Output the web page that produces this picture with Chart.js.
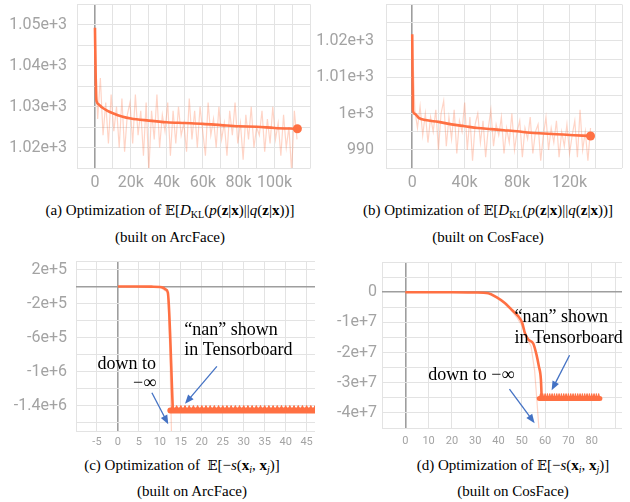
<!DOCTYPE html>
<html>
<head>
<meta charset="utf-8">
<script src="https://cdn.jsdelivr.net/npm/chart.js@4.4.1/dist/chart.umd.min.js"></script>
<style>
  body { margin: 0; background: #fff; }
  #fig { position: relative; width: 630px; height: 502px; overflow: hidden; }
  .pane { position: absolute; }
  .cap { position: absolute; width: 340px; text-align: center; font-family: "Liberation Serif", "DejaVu Serif", serif; font-size: 15px; line-height: 18px; color: #000; white-space: nowrap; }
  .cap sub { font-size: 10px; vertical-align: -3px; line-height: 0; }
  .bb { font-family: "DejaVu Serif", serif; font-size: 13px; }
</style>
</head>
<body>
<div id="fig">
  <div class="pane" style="left:0;top:0;width:315px;height:195px"><canvas id="chartA"></canvas></div>
  <div class="pane" style="left:315px;top:0;width:315px;height:195px"><canvas id="chartB"></canvas></div>
  <div class="pane" style="left:0;top:250px;width:315px;height:200px"><canvas id="chartC"></canvas></div>
  <div class="pane" style="left:315px;top:250px;width:315px;height:200px"><canvas id="chartD"></canvas></div>

  <div class="cap" style="left:0px;top:201px">(a) Optimization of <span class="bb">𝔼</span>[<i>D</i><sub>KL</sub>(<i>p</i>(<b>z</b>|<b>x</b>)||<i>q</i>(<b>z</b>|<b>x</b>))]</div>
  <div class="cap" style="left:0px;top:228px">(built on ArcFace)</div>
  <div class="cap" style="left:318px;top:201px">(b) Optimization of <span class="bb">𝔼</span>[<i>D</i><sub>KL</sub>(<i>p</i>(<b>z</b>|<b>x</b>)||<i>q</i>(<b>z</b>|<b>x</b>))]</div>
  <div class="cap" style="left:318px;top:228px">(built on CosFace)</div>
  <div class="cap" style="left:12px;top:456px">(c) Optimization of &nbsp;<span class="bb">𝔼</span>[−<i>s</i>(<b>x</b><sub><i>i</i></sub>, <b>x</b><sub><i>j</i></sub>)]</div>
  <div class="cap" style="left:22px;top:482px">(built on ArcFace)</div>
  <div class="cap" style="left:343px;top:456px">(d) Optimization of <span class="bb">𝔼</span>[−<i>s</i>(<b>x</b><sub><i>i</i></sub>, <b>x</b><sub><i>j</i></sub>)]</div>
  <div class="cap" style="left:343px;top:482px">(built on CosFace)</div>
</div>

<script>
// ---- (a) KL term, ArcFace ----
var smoothStepsA = [0, 300, 600, 1000, 2000, 4000, 7000, 10000, 15000, 20000, 30000, 40000, 50000, 60000, 70000, 80000, 90000, 100000, 112700];
var smoothA = [1049.3, 1040, 1033, 1031.2, 1030.6, 1029.8, 1029, 1028.4, 1027.6, 1027.1, 1026.6, 1026.2, 1026, 1025.8, 1025.5, 1025.2, 1025.1, 1024.8, 1024.6];
var rawStepA = 1500;
var rawA = [1049, 1027, 1037, 1023, 1031, 1021, 1033, 1024, 1030, 1020, 1032, 1019, 1028, 1031, 1021, 1033, 1023, 1029, 1018, 1031,
            1014, 1029, 1022, 1033, 1020, 1028, 1024, 1031, 1018, 1029, 1021, 1030, 1023, 1026, 1019, 1032, 1022, 1029, 1020, 1030,
            1024, 1018, 1031, 1023, 1027, 1020, 1030, 1022, 1026, 1018, 1029, 1023, 1031, 1021, 1026, 1017, 1028, 1022, 1030, 1020,
            1025, 1023, 1029, 1019, 1027, 1021, 1030, 1022, 1026, 1018, 1028, 1020, 1025, 1014, 1029, 1022];
var xGridA = [-10000, 0, 10000, 20000, 30000, 40000, 50000, 60000, 70000, 80000, 90000, 100000, 110000, 120000];
var xTickValsA = [0, 20000, 40000, 60000, 80000, 100000];
var xTickTextA = ["0", "20k", "40k", "60k", "80k", "100k"];
var yGridA = [1015, 1020, 1025, 1030, 1035, 1040, 1045, 1050, 1055];
var yTickValsA = [1020, 1030, 1040, 1050];
var yTickTextA = ["1.02e+3", "1.03e+3", "1.04e+3", "1.05e+3"];

// ---- (b) KL term, CosFace ----
var smoothStepsB = [0, 500, 2000, 5000, 10000, 20000, 30000, 40000, 50000, 60000, 70000, 80000, 90000, 100000, 110000, 120000, 130000, 136000];
var smoothB = [1021.8, 1000.8, 999.9, 998.8, 998.2, 997.7, 997, 996.5, 996, 995.7, 995.4, 995.1, 994.7, 994.5, 994.3, 994.1, 993.9, 993.8];
var rawStepB = 2000;
var rawB = [1021.5, 1001, 996, 1002, 994, 1000, 992, 999, 995, 1001, 990, 1000, 1003.5, 991, 999, 993, 1001, 989, 998, 995,
            1003, 990, 999, 987, 997, 1000, 992, 998, 988, 996, 1001, 991, 997, 994, 999, 989, 996, 992, 1000, 990,
            995, 998, 988, 996, 993, 999, 989, 995, 997, 987, 994, 999, 990, 996, 992, 998, 988, 995, 991, 997,
            989, 994, 998, 988, 1001, 990, 995, 987, 996];
var xGridB = [-20000, 0, 20000, 40000, 60000, 80000, 100000, 120000, 140000, 160000];
var xTickValsB = [0, 40000, 80000, 120000];
var xTickTextB = ["0", "40k", "80k", "120k"];
var yGridB = [985, 990, 995, 1000, 1005, 1010, 1015, 1020, 1025, 1030];
var yTickValsB = [990, 1000, 1010, 1020];
var yTickTextB = ["990", "1e+3", "1.01e+3", "1.02e+3"];

// ---- (c) similarity term, ArcFace ----
var smoothStepsC = [0, 4, 8, 10, 10.8, 11.4, 11.9, 13.1];
var smoothC = [0, 0, -2000, -6000, -15000, -35000, -70000, -1460000];
var rawStepsC = [0, 10, 11.9, 12.4, 12.8];
var rawC = [0, -6000, -70000, -800000, -1800000];
var bandStepsC = [12.5, 48];
var bandC = [-1460000, -1460000];
var nanStartC = 12.5, nanStepC = 0.5;
var nanC = [-1460000, -1400000, -1460000, -1400000, -1460000, -1400000, -1460000, -1400000, -1460000, -1400000,
            -1460000, -1400000, -1460000, -1400000, -1460000, -1400000, -1460000, -1400000, -1460000, -1400000,
            -1460000, -1400000, -1460000, -1400000, -1460000, -1400000, -1460000, -1400000, -1460000, -1400000,
            -1460000, -1400000, -1460000, -1400000, -1460000, -1400000, -1460000, -1400000, -1460000, -1400000,
            -1460000, -1400000, -1460000, -1400000, -1460000, -1400000, -1460000, -1400000, -1460000, -1400000,
            -1460000, -1400000, -1460000, -1400000, -1460000, -1400000, -1460000, -1400000, -1460000, -1400000,
            -1460000, -1400000, -1460000, -1400000, -1460000, -1400000, -1460000, -1400000, -1460000, -1400000,
            -1460000, -1400000];
var xGridC = [-10, -5, 0, 5, 10, 15, 20, 25, 30, 35, 40, 45];
var xTickValsC = [-5, 0, 5, 10, 15, 20, 25, 30, 35, 40, 45];
var xTickTextC = ["-5", "0", "5", "10", "15", "20", "25", "30", "35", "40", "45"];
var yGridC = [-1700000, -1600000, -1400000, -1200000, -1000000, -800000, -600000, -400000, -200000, 0, 200000, 300000];
var yTickValsC = [200000, -200000, -600000, -1000000, -1400000];
var yTickTextC = ["2e+5", "-2e+5", "-6e+5", "-1e+6", "-1.4e+6"];

// ---- (d) similarity term, CosFace ----
var smoothStepsD = [0, 10, 20, 30, 35.6, 39.1, 42.7, 45.6, 48.5, 50.2, 51.3, 52.8, 54.9, 56.3, 57.3, 58.2, 58.5];
var smoothD = [0, 0, 0, -100000, -330000, -1650000, -3600000, -5800000, -8000000, -10200000, -13500000, -15700000, -17000000, -20700000, -24500000, -29000000, -34500000];
var rawStepsD = [45, 48, 50, 52, 54, 55.5, 56.5, 57.5];
var rawD = [-5500000, -8500000, -11000000, -15000000, -18000000, -26000000, -36000000, -47000000];
var bandStepsD = [57.5, 83.5];
var bandD = [-35200000, -35200000];
var nanStartD = 57.5, nanStepD = 0.5;
var nanD = [-35200000, -33600000, -35200000, -33600000, -35200000, -33600000, -35200000, -33600000, -35200000, -33600000,
            -35200000, -33600000, -35200000, -33600000, -35200000, -33600000, -35200000, -33600000, -35200000, -33600000,
            -35200000, -33600000, -35200000, -33600000, -35200000, -33600000, -35200000, -33600000, -35200000, -33600000,
            -35200000, -33600000, -35200000, -33600000, -35200000, -33600000, -35200000, -33600000, -35200000, -33600000,
            -35200000, -33600000, -35200000, -33600000, -35200000, -33600000, -35200000, -33600000, -35200000, -33600000,
            -35200000, -33600000, -35200000];
var xGridD = [-10, 0, 10, 20, 30, 40, 50, 60, 70, 80, 90];
var xTickValsD = [0, 10, 20, 30, 40, 50, 60, 70, 80];
var xTickTextD = ["0", "10", "20", "30", "40", "50", "60", "70", "80"];
var yGridD = [-45000000, -40000000, -35000000, -30000000, -25000000, -20000000, -15000000, -10000000, -5000000, 0, 5000000, 10000000];
var yTickValsD = [0, -10000000, -20000000, -30000000, -40000000];
var yTickTextD = ["0", "-1e+7", "-2e+7", "-3e+7", "-4e+7"];

// annotations (data coordinates)
var notesC = {
    texts: [
        { text: "\u201cnan\u201d shown", x: 15.8, y: -565000, align: "left" },
        { text: "in Tensorboard", x: 15.8, y: -810000, align: "left" },
        { text: "down to", x: 9.1, y: -965000, align: "right" },
        { text: "\u2212\u221e", x: 9.1, y: -1190000, align: "right" }
    ],
    arrows: [
        { from: [23.6, -940000], to: [16.0, -1380000] },
        { from: [8.1, -1250000], to: [12.0, -1620000] }
    ]
};
var notesD = {
    texts: [
        { text: "\u201cnan\u201d shown", x: 46.9, y: -9900000, align: "left" },
        { text: "in Tensorboard", x: 46.9, y: -16900000, align: "left" },
        { text: "down to \u2212\u221e", x: 9.9, y: -29200000, align: "left" }
    ],
    arrows: [
        { from: [70.5, -20900000], to: [62.8, -32500000] },
        { from: [44.7, -32100000], to: [55.5, -43400000] }
    ]
};

var ORANGE = "#ff7043";
var PALE = "rgba(255,112,67,0.3)";

function pts(steps, vals) {
    return vals.map(function(v, i) { return { x: steps[i], y: v }; });
}
function evenPts(start, step, vals) {
    return vals.map(function(v, i) { return { x: start + i * step, y: v }; });
}

function drawArrow(ctx, x0, y0, x1, y1) {
    var ang = Math.atan2(y1 - y0, x1 - x0);
    var len = 9, half = 3.6;
    ctx.beginPath();
    ctx.moveTo(x0, y0);
    ctx.lineTo(x1 - Math.cos(ang) * len * 0.8, y1 - Math.sin(ang) * len * 0.8);
    ctx.stroke();
    ctx.beginPath();
    ctx.moveTo(x1, y1);
    ctx.lineTo(x1 - Math.cos(ang) * len - Math.sin(ang) * half, y1 - Math.sin(ang) * len + Math.cos(ang) * half);
    ctx.lineTo(x1 - Math.cos(ang) * len + Math.sin(ang) * half, y1 - Math.sin(ang) * len - Math.cos(ang) * half);
    ctx.closePath();
    ctx.fill();
}

var notesPlugin = {
    id: "notes",
    afterDatasetsDraw: function(chart, args, opts) {
        if (!opts || !opts.texts) return;
        var ctx = chart.ctx, sx = chart.scales.x, sy = chart.scales.y;
        ctx.save();
        ctx.font = '18px "Liberation Serif"';
        ctx.fillStyle = "#000";
        ctx.textBaseline = "alphabetic";
        opts.texts.forEach(function(t) {
            ctx.textAlign = t.align;
            ctx.fillText(t.text, sx.getPixelForValue(t.x), sy.getPixelForValue(t.y));
        });
        ctx.strokeStyle = "#4472c4";
        ctx.fillStyle = "#4472c4";
        ctx.lineWidth = 1.3;
        opts.arrows.forEach(function(a) {
            drawArrow(ctx, sx.getPixelForValue(a.from[0]), sy.getPixelForValue(a.from[1]),
                sx.getPixelForValue(a.to[0]), sy.getPixelForValue(a.to[1]));
        });
        ctx.restore();
    }
};

function axis(o) {
    return {
        type: "linear",
        min: o.min,
        max: o.max,
        afterBuildTicks: function(s) { s.ticks = o.grid.map(function(v) { return { value: v }; }); },
        afterFit: function(s) {
            if (o.vertical) s.width = o.size; else s.height = o.size;
            s.paddingTop = 0; s.paddingBottom = 0; s.paddingLeft = 0; s.paddingRight = 0;
        },
        border: { display: false },
        grid: {
            drawTicks: false,
            color: function(c) { return c.tick && c.tick.value === 0 ? "#9e9e9e" : "#e3e3e3"; },
            lineWidth: function(c) { return c.tick && c.tick.value === 0 ? 1.6 : 1; }
        },
        ticks: {
            autoSkip: false,
            maxRotation: 0,
            padding: o.pad,
            color: "#a3a3a3",
            font: { family: "Roboto", size: o.font },
            callback: function(v) {
                var i = o.vals.indexOf(v);
                return i < 0 ? "" : o.text[i];
            }
        }
    };
}

function makeChart(id, datasets, padding, xo, yo, notes) {
    return new Chart(document.getElementById(id), {
        type: "line",
        data: { datasets: datasets },
        options: {
            responsive: true,
            maintainAspectRatio: false,
            animation: false,
            layout: { padding: padding },
            plugins: { legend: { display: false }, tooltip: { enabled: false }, notes: notes || {} },
            scales: { x: axis(xo), y: axis(yo) }
        },
        plugins: [notesPlugin]
    });
}

function rawSet(data) {
    return { data: data, borderColor: PALE, borderWidth: 1.2, pointRadius: 0, tension: 0 };
}
function smoothSet(data, withDot) {
    return {
        data: data, borderColor: ORANGE, borderWidth: 2.6, tension: 0,
        cubicInterpolationMode: "monotone",
        pointRadius: function(c) { return withDot && c.dataIndex === data.length - 1 ? 4.5 : 0; },
        pointBackgroundColor: ORANGE, pointBorderWidth: 0
    };
}

makeChart("chartA",
    [rawSet(evenPts(0, rawStepA, rawA)), smoothSet(pts(smoothStepsA, smoothA), true)],
    { top: 3, right: 2, left: 0, bottom: 0 },
    { min: -10000, max: 120000, grid: xGridA, vals: xTickValsA, text: xTickTextA, size: 27, pad: 5, font: 16 },
    { min: 1015, max: 1055, grid: yGridA, vals: yTickValsA, text: yTickTextA, size: 77, pad: 10, font: 16, vertical: true });

makeChart("chartB",
    [rawSet(evenPts(0, rawStepB, rawB)), smoothSet(pts(smoothStepsB, smoothB), true)],
    { top: 2, right: 8, left: 0, bottom: 0 },
    { min: -20000, max: 160000, grid: xGridB, vals: xTickValsB, text: xTickTextB, size: 27, pad: 5, font: 16 },
    { min: 985, max: 1030, grid: yGridB, vals: yTickValsB, text: yTickTextB, size: 71, pad: 12, font: 16, vertical: true });

makeChart("chartC",
    [rawSet(pts(rawStepsC, rawC)),
     smoothSet(pts(smoothStepsC, smoothC), false),
     { data: evenPts(nanStartC, nanStepC, nanC), borderColor: ORANGE, borderWidth: 1, pointRadius: 0, tension: 0,
       fill: { value: -1460000 }, backgroundColor: ORANGE },
     { data: pts(bandStepsC, bandC), borderColor: ORANGE, borderWidth: 6, pointRadius: 0, borderCapStyle: "round" }],
    { top: 11, right: 0, left: 0, bottom: 0 },
    { min: -10, max: 47, grid: xGridC, vals: xTickValsC, text: xTickTextC, size: 19, pad: 5, font: 11 },
    { min: -1700000, max: 300000, grid: yGridC, vals: yTickValsC, text: yTickTextC, size: 76, pad: 9, font: 16, vertical: true },
    notesC);

makeChart("chartD",
    [rawSet(pts(rawStepsD, rawD)),
     smoothSet(pts(smoothStepsD, smoothD), false),
     { data: evenPts(nanStartD, nanStepD, nanD), borderColor: ORANGE, borderWidth: 1, pointRadius: 0, tension: 0,
       fill: { value: -35200000 }, backgroundColor: ORANGE },
     { data: pts(bandStepsD, bandD), borderColor: ORANGE, borderWidth: 5, pointRadius: 0, borderCapStyle: "round" }],
    { top: 12, right: 8, left: 0, bottom: 0 },
    { min: -10, max: 93, grid: xGridD, vals: xTickValsD, text: xTickTextD, size: 22, pad: 7, font: 11 },
    { min: -45000000, max: 10000000, grid: yGridD, vals: yTickValsD, text: yTickTextD, size: 67, pad: 5, font: 16, vertical: true },
    notesD);
</script>
</body>
</html>
